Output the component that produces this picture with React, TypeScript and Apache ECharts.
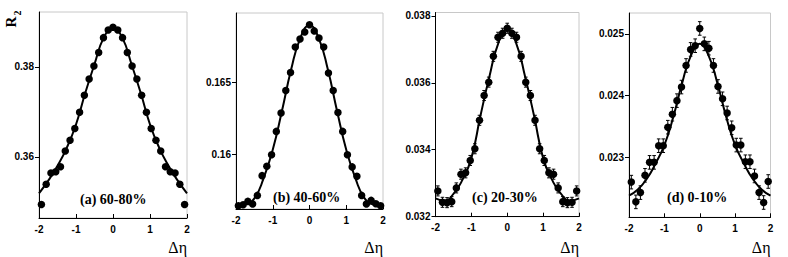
import React, { useEffect, useRef } from "react";
import * as echarts from "echarts";

// Δη bin centres (31 bins over [-2, 2])
const etaBins = [
  -1.935, -1.806, -1.677, -1.548, -1.419, -1.29, -1.161, -1.032, -0.903, -0.774, -0.645,
  -0.516, -0.387, -0.258, -0.129, 0, 0.129, 0.258, 0.387, 0.516, 0.645, 0.774, 0.903,
  1.032, 1.161, 1.29, 1.419, 1.548, 1.677, 1.806, 1.935,
];

const r2_60_80 = [
  0.3494, 0.3539, 0.3564, 0.3567, 0.3578, 0.3613, 0.3637, 0.3663, 0.3699, 0.3737, 0.3773,
  0.3802, 0.3832, 0.3865, 0.3882, 0.3888, 0.3882, 0.3865, 0.3832, 0.3802, 0.3773, 0.3737,
  0.3699, 0.3663, 0.3637, 0.3613, 0.3578, 0.3567, 0.3564, 0.3539, 0.3494,
];
const r2_40_60 = [
  0.15639, 0.15646, 0.15669, 0.15651, 0.15711, 0.15849, 0.15914, 0.15995, 0.16158, 0.16286,
  0.16444, 0.1657, 0.16747, 0.16803, 0.16852, 0.16903, 0.1686, 0.1681, 0.16747, 0.16566,
  0.16444, 0.1629, 0.16158, 0.15995, 0.1591, 0.15844, 0.15711, 0.15651, 0.15676, 0.15653,
  0.15639,
];
const r2_20_30 = [
  0.03277, 0.03243, 0.03242, 0.03245, 0.03286, 0.03327, 0.03331, 0.03368, 0.03403, 0.03488,
  0.03562, 0.03602, 0.03679, 0.03736, 0.03748, 0.03763, 0.03748, 0.03736, 0.03679, 0.03602,
  0.03562, 0.03488, 0.03403, 0.03368, 0.03331, 0.03327, 0.03286, 0.03245, 0.03242, 0.03243,
  0.03277,
];
const r2_0_10 = [
  0.0226, 0.02228, 0.02243, 0.02271, 0.02292, 0.02292, 0.02319, 0.02319, 0.02349, 0.0237,
  0.02392, 0.02414, 0.02449, 0.02475, 0.02481, 0.02509, 0.02484, 0.02477, 0.02449, 0.02415,
  0.02395, 0.02372, 0.02348, 0.0232, 0.0232, 0.02293, 0.02293, 0.0227, 0.02243, 0.02227,
  0.02261,
];

const err_20_30 = 0.00015;
const err_0_10 = 0.00011;

// fit curves
const fitEta = [-2, -1.75, -1.5, -1.25, -1, -0.75, -0.5, -0.25, 0, 0.25, 0.5, 0.75, 1, 1.25, 1.5, 1.75, 2];
const fit_60_80 = [0.3519, 0.3547, 0.358, 0.362, 0.3672, 0.3742, 0.3806, 0.3865, 0.3887, 0.3865, 0.3806, 0.3742, 0.3672, 0.362, 0.358, 0.3547, 0.3519];
const fit_40_60 = [0.1564, 0.15648, 0.1569, 0.1583, 0.1603, 0.163, 0.1659, 0.1681, 0.169, 0.1681, 0.1659, 0.163, 0.1603, 0.1583, 0.1569, 0.15648, 0.1564];
const fit_20_30 = [0.03255, 0.03248, 0.03268, 0.0331, 0.03375, 0.035, 0.03617, 0.03718, 0.0376, 0.03718, 0.03617, 0.035, 0.03375, 0.0331, 0.03268, 0.03248, 0.03255];
const fit_0_10 = [0.02238, 0.02248, 0.02265, 0.0229, 0.0232, 0.02365, 0.0242, 0.02465, 0.02484, 0.02465, 0.0242, 0.02365, 0.0232, 0.0229, 0.02265, 0.02248, 0.02238];

const panelLabels = ["(a) 60-80%", "(b) 40-60%", "(c) 20-30%", "(d) 0-10%"];
const yTicks = [[0.36, 0.38], [0.16, 0.165], [0.032, 0.034, 0.036, 0.038], [0.023, 0.024, 0.025]];
const xTicks = [-2, -1, 0, 1, 2];

const panels = [
  { left: 39, top: 12, width: 148, height: 206, min: 0.3464, max: 0.3922, vals: r2_60_80, fit: fit_60_80, err: 0, lx: 80, ly: 199 },
  { left: 236, top: 13, width: 147, height: 196, min: 0.15616, max: 0.16985, vals: r2_40_60, fit: fit_40_60, err: 0, lx: 273, ly: 197 },
  { left: 435.5, top: 12.5, width: 143.5, height: 204.2, min: 0.032, max: 0.0381, vals: r2_20_30, fit: fit_20_30, err: err_20_30, lx: 472, ly: 197 },
  { left: 629, top: 13, width: 141.5, height: 204.3, min: 0.02203, max: 0.02534, vals: r2_0_10, fit: fit_0_10, err: err_0_10, lx: 667, ly: 197 },
];

const SANS = '"Liberation Sans", Arial, sans-serif';
const SERIF = '"Liberation Serif", "Times New Roman", serif';

export default function App() {
  const ref = useRef<HTMLDivElement>(null);
  useEffect(() => {
    if (!ref.current) return;
    const chart = echarts.init(ref.current, null, { renderer: "svg" });
    const grid: any[] = [];
    const xAxis: any[] = [];
    const yAxis: any[] = [];
    const series: any[] = [];
    const graphic: any[] = [];
    panels.forEach((p, i) => {
      grid.push({ left: p.left, top: p.top, width: p.width, height: p.height, show: true, borderColor: "#c8c8c8", borderWidth: 1, backgroundColor: "transparent" });
      xAxis.push({
        type: "value", gridIndex: i, min: -2, max: 2, interval: 1,
        axisLine: { show: true, onZero: false, lineStyle: { color: "#000", width: 1 } },
        axisTick: { show: true, inside: true, length: 4, customValues: xTicks, lineStyle: { color: "#000" } },
        axisLabel: { show: true, customValues: xTicks, color: "#000", fontFamily: SANS, fontWeight: "bold", fontSize: 10, margin: 6, formatter: (v: number) => String(v) },
        splitLine: { show: false },
      });
      yAxis.push({
        type: "value", gridIndex: i, min: p.min, max: p.max,
        axisLine: { show: true, onZero: false, lineStyle: { color: "#000", width: 1 } },
        axisTick: { show: true, inside: false, length: 4, customValues: yTicks[i], lineStyle: { color: "#000" } },
        axisLabel: { show: true, customValues: yTicks[i], color: "#000", fontFamily: SANS, fontWeight: "bold", fontSize: 10, margin: 5, formatter: (v: number) => String(v) },
        splitLine: { show: false },
      });
      series.push({
        type: "line", xAxisIndex: i, yAxisIndex: i, smooth: true, showSymbol: false, z: 2,
        data: fitEta.map((x, j) => [x, p.fit[j]]),
        lineStyle: { color: "#000", width: 2 }, silent: true,
      });
      if (p.err > 0) {
        series.push({
          type: "custom", xAxisIndex: i, yAxisIndex: i, z: 3, silent: true,
          data: etaBins.map((x, j) => [x, p.vals[j] - p.err, p.vals[j] + p.err]),
          encode: { x: 0, y: [1, 2] },
          renderItem: (_params: any, api: any) => {
            const lo = api.coord([api.value(0), api.value(1)]);
            const hi = api.coord([api.value(0), api.value(2)]);
            const w = 1.8;
            const st = { stroke: "#000", lineWidth: 1 };
            return {
              type: "group",
              children: [
                { type: "line", shape: { x1: lo[0], y1: lo[1], x2: hi[0], y2: hi[1] }, style: st },
                { type: "line", shape: { x1: lo[0] - w, y1: lo[1], x2: lo[0] + w, y2: lo[1] }, style: st },
                { type: "line", shape: { x1: hi[0] - w, y1: hi[1], x2: hi[0] + w, y2: hi[1] }, style: st },
              ],
            };
          },
        });
      }
      series.push({
        type: "scatter", xAxisIndex: i, yAxisIndex: i, z: 4, symbol: "circle", symbolSize: 7.5,
        data: etaBins.map((x, j) => [x, p.vals[j]]),
        itemStyle: { color: "#000", opacity: 1 }, silent: true,
      });
      graphic.push({
        type: "text", x: p.lx, y: p.ly,
        style: { text: panelLabels[i], font: `bold 14px ${SERIF}`, fill: "#000", align: "left", verticalAlign: "middle", textAlign: "left", textVerticalAlign: "middle" },
      });
      graphic.push({
        type: "text", x: p.left + p.width, y: 247,
        style: { text: "Δη", font: `16px ${SERIF}`, fill: "#000", align: "right", verticalAlign: "middle", textAlign: "right", textVerticalAlign: "middle" },
      });
    });
    // Y-axis title R_2, rotated to read upward
    graphic.push({
      type: "text", x: 11, y: 19, rotation: Math.PI / 2,
      style: {
        text: "{r|R}{s|2}",
        fill: "#000", align: "center", verticalAlign: "middle", textAlign: "center", textVerticalAlign: "middle",
        rich: {
          r: { fontFamily: SERIF, fontWeight: "bold", fontSize: 15, lineHeight: 16, verticalAlign: "top" },
          s: { fontFamily: SERIF, fontWeight: "bold", fontSize: 10, lineHeight: 16, verticalAlign: "bottom", padding: [0, 0, -3, 1] },
        },
      },
    });
    chart.setOption({
      animation: false,
      backgroundColor: "#fff",
      grid, xAxis, yAxis, series, graphic,
    });
    return () => chart.dispose();
  }, []);
  return <div ref={ref} style={{ position: "absolute", left: 0, top: 0, width: 788, height: 257 }} />;
}
